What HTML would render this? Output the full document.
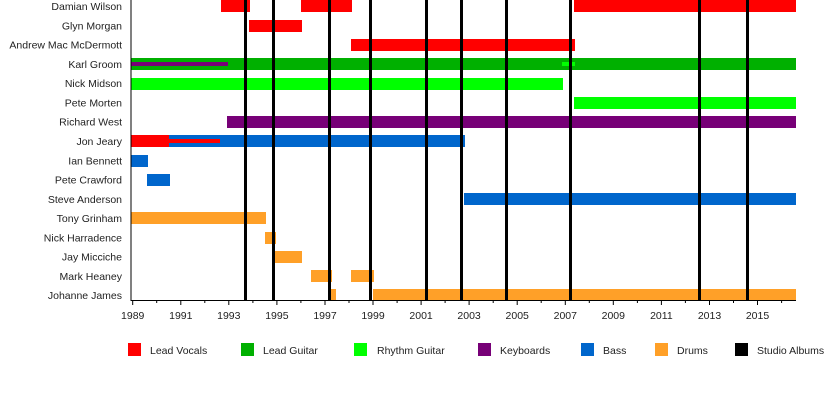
<!DOCTYPE html>
<html><head><meta charset="utf-8"><style>
html,body{margin:0;padding:0;background:#fff;}
svg{display:block;font-family:"Liberation Sans",Arial,sans-serif;}
</style></head><body>
<svg width="825" height="420" viewBox="0 0 825 420" xmlns="http://www.w3.org/2000/svg">
<g font-size="10.5" fill="#222" text-anchor="end">
<text x="122" y="10">Damian Wilson</text>
<text x="122" y="29.5">Glyn Morgan</text>
<text x="122" y="48.5">Andrew Mac McDermott</text>
<text x="122" y="68">Karl Groom</text>
<text x="122" y="87">Nick Midson</text>
<text x="122" y="106.5">Pete Morten</text>
<text x="122" y="125.5">Richard West</text>
<text x="122" y="145">Jon Jeary</text>
<text x="122" y="164.5">Ian Bennett</text>
<text x="122" y="183.5">Pete Crawford</text>
<text x="122" y="203">Steve Anderson</text>
<text x="122" y="222">Tony Grinham</text>
<text x="122" y="241.5">Nick Harradence</text>
<text x="122" y="260.5">Jay Micciche</text>
<text x="122" y="280">Mark Heaney</text>
<text x="122" y="299">Johanne James</text>
</g>
<g>
<rect x="221" y="0" width="29" height="12" fill="#ff0000"/>
<rect x="301" y="0" width="51" height="12" fill="#ff0000"/>
<rect x="574" y="0" width="222" height="12" fill="#ff0000"/>
<rect x="249" y="20" width="53" height="12" fill="#ff0000"/>
<rect x="351" y="39" width="224" height="12" fill="#ff0000"/>
<rect x="131" y="58" width="665" height="12" fill="#00b000"/>
<rect x="131" y="62" width="97" height="4" fill="#770077"/>
<rect x="562" y="62" width="13" height="4" fill="#00ff00"/>
<rect x="131" y="78" width="432" height="12" fill="#00ff00"/>
<rect x="574" y="97" width="222" height="12" fill="#00ff00"/>
<rect x="227" y="116" width="569" height="12" fill="#770077"/>
<rect x="131" y="135" width="334" height="12" fill="#0066cc"/>
<rect x="131" y="135" width="38" height="12" fill="#ff0000"/>
<rect x="169" y="139" width="51" height="4" fill="#ff0000"/>
<rect x="131" y="155" width="17" height="12" fill="#0066cc"/>
<rect x="147" y="174" width="23" height="12" fill="#0066cc"/>
<rect x="464" y="193" width="332" height="12" fill="#0066cc"/>
<rect x="131" y="212" width="135" height="12" fill="#ffa028"/>
<rect x="265" y="232" width="11" height="12" fill="#ffa028"/>
<rect x="275" y="251" width="27" height="12" fill="#ffa028"/>
<rect x="311" y="270" width="21" height="12" fill="#ffa028"/>
<rect x="351" y="270" width="23" height="12" fill="#ffa028"/>
<rect x="330.5" y="289" width="5.5" height="12" fill="#ffa028"/>
<rect x="373" y="289" width="423" height="12" fill="#ffa028"/>
</g>
<g fill="#000">
<rect x="244" y="0" width="3" height="301"/>
<rect x="272" y="0" width="3" height="301"/>
<rect x="328" y="0" width="3" height="301"/>
<rect x="369" y="0" width="3" height="301"/>
<rect x="425" y="0" width="3" height="301"/>
<rect x="460" y="0" width="3" height="301"/>
<rect x="505" y="0" width="3" height="301"/>
<rect x="569" y="0" width="3" height="301"/>
<rect x="698" y="0" width="3" height="301"/>
<rect x="746" y="0" width="3" height="301"/>
</g>
<line x1="131" y1="0" x2="131" y2="301" stroke="#000" stroke-width="1"/>
<line x1="131" y1="300.5" x2="796" y2="300.5" stroke="#000" stroke-width="1"/>
<g stroke="#000" stroke-width="1">
<path d="M132.7 300v5M156.7 300v3M180.8 300v5M204.8 300v3M228.8 300v5M252.9 300v3M276.9 300v5M300.9 300v3M325 300v5M349 300v3M373 300v5M397.1 300v3M421.1 300v5M445.1 300v3M469.1 300v5M493.2 300v3M517.2 300v5M541.2 300v3M565.3 300v5M589.3 300v3M613.3 300v5M637.4 300v3M661.4 300v5M685.4 300v3M709.5 300v5M733.5 300v3M757.5 300v5M781.6 300v3"/>
</g>
<g font-size="10.5" fill="#222" text-anchor="middle">
<text x="132.7" y="319">1989</text><text x="180.8" y="319">1991</text><text x="228.8" y="319">1993</text><text x="276.9" y="319">1995</text><text x="325" y="319">1997</text><text x="373" y="319">1999</text><text x="421.1" y="319">2001</text><text x="469.1" y="319">2003</text><text x="517.2" y="319">2005</text><text x="565.3" y="319">2007</text><text x="613.3" y="319">2009</text><text x="661.4" y="319">2011</text><text x="709.5" y="319">2013</text><text x="757.5" y="319">2015</text>
</g>
<g font-size="10.5" fill="#222">
<rect x="128" y="343" width="13" height="13" fill="#ff0000"/><text x="150" y="354">Lead Vocals</text>
<rect x="241" y="343" width="13" height="13" fill="#00b000"/><text x="263" y="354">Lead Guitar</text>
<rect x="354" y="343" width="13" height="13" fill="#00ff00"/><text x="377" y="354">Rhythm Guitar</text>
<rect x="478" y="343" width="13" height="13" fill="#770077"/><text x="500" y="354">Keyboards</text>
<rect x="581" y="343" width="13" height="13" fill="#0066cc"/><text x="603" y="354">Bass</text>
<rect x="655" y="343" width="13" height="13" fill="#ffa028"/><text x="677" y="354">Drums</text>
<rect x="735" y="343" width="13" height="13" fill="#000"/><text x="757" y="354">Studio Albums</text>
</g>
</svg>
</body></html>
